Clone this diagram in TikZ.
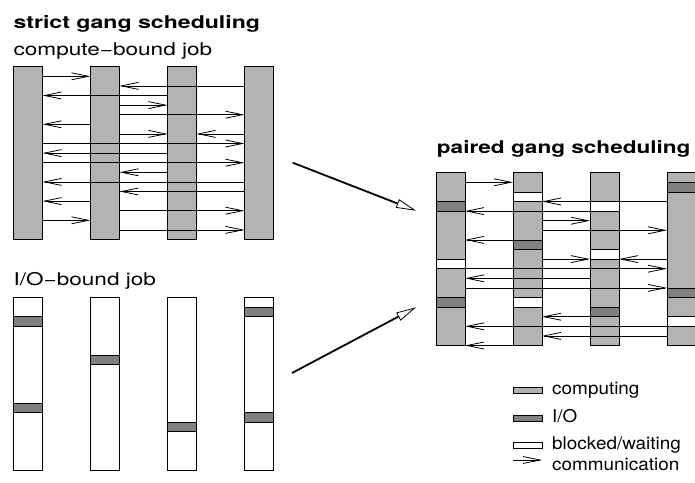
\documentclass[tikz,border=0pt]{standalone}
\usepackage{fontspec}
\setmainfont{TeX Gyre Heros}
\usepackage{graphicx}
\usetikzlibrary{arrows.meta}
\definecolor{comp}{RGB}{179,179,179}
\definecolor{iocol}{RGB}{128,128,128}
\newcommand{\stretchtxt}[2][1.29]{\scalebox{#1}[1]{#2}}
\newcommand{\msgarrow}[4]{%
  \ifnum#3<#4
    \draw[msg] ([yshift={-#2*9.6pt}]#1#3.north east) -- ([yshift={-#2*9.6pt}]#1#4.north west);
  \else
    \draw[msg] ([yshift={-#2*9.6pt}]#1#3.north west) -- ([yshift={-#2*9.6pt}]#1#4.north east);
  \fi}
\newcommand{\segm}[4]{%
  \draw[seg, fill=#4] ([yshift={-#2*9.6pt}]#1.north west) rectangle ([yshift={-#3*9.6pt}]#1.north east);}
\begin{document}
\begin{tikzpicture}[x=1pt,y=-1pt,
  bar/.style={draw, line width=0.8pt, inner sep=0pt, outer sep=0pt, minimum width=29pt, minimum height=172.8pt, anchor=north west},
  cbar/.style={bar, fill=comp},
  wbar/.style={bar, fill=white},
  msg/.style={line width=0.8pt, -{Straight Barb[length=17pt,width=7pt,line width=0.8pt]}},
  seg/.style={draw, line width=0.8pt},
  big/.style={line width=1.8pt, -{Triangle[fill=white,length=20pt,width=9pt,line width=0.8pt]}},
  title/.style={inner sep=0pt, anchor=base west, font=\fontsize{17.5}{20}\selectfont\bfseries},
  lbl/.style={inner sep=0pt, anchor=base west, font=\fontsize{17.5}{20}\selectfont},
  leg/.style={inner sep=0pt, anchor=base west, font=\fontsize{17.5}{20}\selectfont},
  swatch/.style={draw, line width=0.8pt, inner sep=0pt, outer sep=0pt, minimum width=29pt, minimum height=5.5pt, anchor=west},
]
\useasboundingbox (0,0) rectangle (695,482);

% titles
\node[title] (t1) at (13.3,28.3) {\stretchtxt[1.32]{strict gang scheduling}};
\node[lbl] (t2) at (13.3,55) {\stretchtxt{compute−bound job}};
\node[lbl] (t3) at (13.3,285) {\stretchtxt{I/O−bound job}};
\node[title] (t4) at (436.7,153.3) {\stretchtxt{paired gang scheduling}};

% bars
\foreach \i in {1,...,4} {
  \node[cbar] (c\i) at ({13.5+77*(\i-1)}, 66.7) {};
  \node[wbar] (o\i) at ({13.5+77*(\i-1)}, 297.3) {};
  \node[cbar] (p\i) at ({436+77*(\i-1)}, 172.7) {};
}

% I/O-bound segments
\segm{o1}{2}{3}{iocol}
\segm{o1}{11}{12}{iocol}
\segm{o2}{6}{7}{iocol}
\segm{o3}{13}{14}{iocol}
\segm{o4}{1}{2}{iocol}
\segm{o4}{12}{13}{iocol}

% paired segments
\segm{p1}{3}{4}{iocol}
\segm{p1}{9}{10}{white}
\segm{p1}{13}{14}{iocol}
\segm{p2}{2}{3}{white}
\segm{p2}{7}{8}{iocol}
\segm{p2}{13}{14}{white}
\segm{p3}{3}{4}{white}
\segm{p3}{8}{9}{white}
\segm{p3}{14}{15}{iocol}
\segm{p4}{1}{2}{iocol}
\segm{p4}{12}{13}{iocol}
\segm{p4}{15}{16}{white}

% messages, compute-bound
\foreach \k/\f/\t in {1/1/2, 2/4/2, 3/3/1, 4/2/3, 5/2/4, 6/2/1, 7/2/3, 7/4/3, 8/1/4, 9/3/1, 10/1/4, 11/3/2, 12/4/1, 13/4/2, 14/2/1, 15/2/4, 16/1/2, 17/2/4} {
  \msgarrow{c}{\k}{\f}{\t}
}
% messages, paired
\foreach \k/\f/\t in {1/1/2, 3/4/2, 4/3/1, 5/2/3, 6/2/4, 7/2/1, 9/2/3, 9/4/3, 10/1/4, 11/3/1, 12/1/4, 15/3/2, 16/4/1, 17/4/2, 18/2/1} {
  \msgarrow{p}{\k}{\f}{\t}
}

% big arrows
\coordinate (a1s) at (292.7,162.7);
\coordinate (a1e) at (416,210.7);
\coordinate (a2s) at (292,373);
\coordinate (a2e) at (416,307.3);
\draw[big] (a1s) -- (a1e);
\draw[big] (a2s) -- (a2e);

% legend
\node[swatch, fill=comp] (lg1) at (513,390.6) {};
\node[swatch, fill=iocol] (lg2) at (513,418.6) {};
\node[swatch, fill=white] (lg3) at (513,445.6) {};
\coordinate (la0) at (513,460);
\coordinate (la1) at (542,460);
\draw[msg] (la0) -- (la1);
\node[leg] (l1) at (552,394) {\stretchtxt[1.08]{computing}};
\node[leg] (l2) at (552,422) {\stretchtxt[1.08]{I/O}};
\node[leg] (l3) at (552,449) {\stretchtxt[1.08]{blocked/waiting}};
\node[leg] (l4) at (552,470) {\stretchtxt[1.08]{communication}};
\end{tikzpicture}
\end{document}
